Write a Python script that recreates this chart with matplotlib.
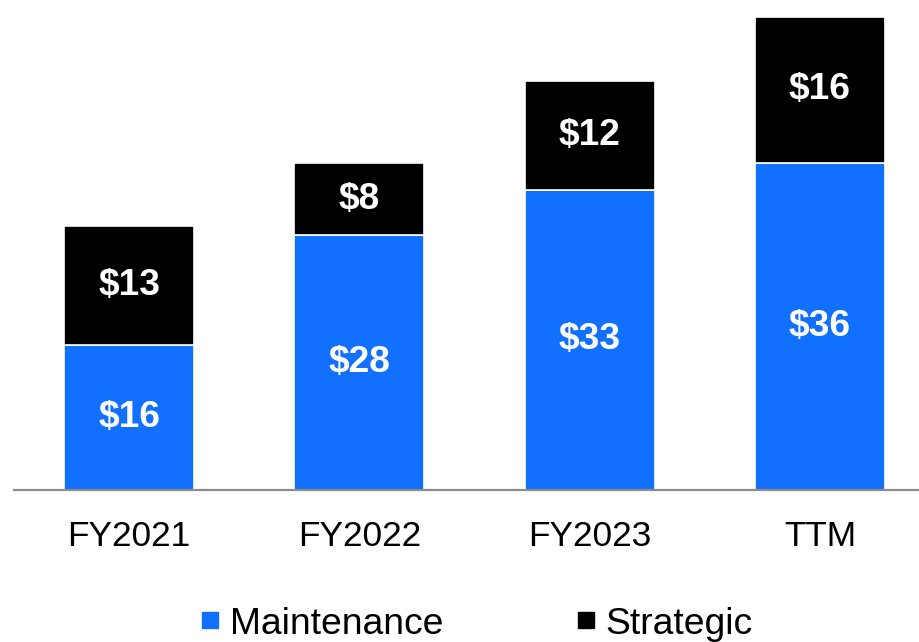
import matplotlib
matplotlib.use("Agg")
import matplotlib.pyplot as plt
from matplotlib.lines import Line2D
import numpy as np

periods = ["FY2021", "FY2022", "FY2023", "TTM"]
maintenance = [16, 28, 33, 36]
strategic = [13, 8, 12, 16]

BLUE = "#1270FF"
BLACK = "#000000"

plt.rcParams["font.family"] = ["Liberation Sans", "DejaVu Sans"]

fig = plt.figure(figsize=(9.2, 6.42), dpi=100)
ax = fig.add_axes([14 / 920, 152 / 642, 906 / 920, 481 / 642])

x = np.arange(len(periods))
width = 0.565
ax.bar(x, maintenance, width, color=BLUE, edgecolor="white", linewidth=1.2)
ax.bar(x, strategic, width, bottom=maintenance, color=BLACK,
       edgecolor="white", linewidth=1.2)

# segment values, centred inside each block
for i, (m, s) in enumerate(zip(maintenance, strategic)):
    ax.text(i, m / 2, f"${m}", ha="center", va="center", color="white",
            fontsize=26.7, fontweight="bold")
    ax.text(i, m + s / 2, f"${s}", ha="center", va="center", color="white",
            fontsize=26.7, fontweight="bold")

ax.set_xlim(-0.5, 3.435)
ax.set_ylim(0, 52.9)
ax.set_xticks(x)
ax.set_xticklabels(periods, fontsize=25.4)
ax.tick_params(axis="x", length=0, pad=21.5)
ax.set_yticks([])
for side in ("top", "right", "left"):
    ax.spines[side].set_visible(False)
ax.spines["bottom"].set_color("#8C8C8C")
ax.spines["bottom"].set_linewidth(1.6)

handles = [
    Line2D([], [], marker="s", linestyle="none", markersize=12.2,
           markerfacecolor=BLUE, markeredgecolor=BLUE),
    Line2D([], [], marker="s", linestyle="none", markersize=12.2,
           markerfacecolor=BLACK, markeredgecolor=BLACK),
]
fig.legend(handles, ["Maintenance", "Strategic"], loc="center",
           bbox_to_anchor=(477 / 920, 1 - 624 / 642), ncol=2, frameon=False,
           fontsize=26.8, handlelength=0.5, handletextpad=0.27,
           columnspacing=3.6)

fig.savefig("out.png", dpi=100)
